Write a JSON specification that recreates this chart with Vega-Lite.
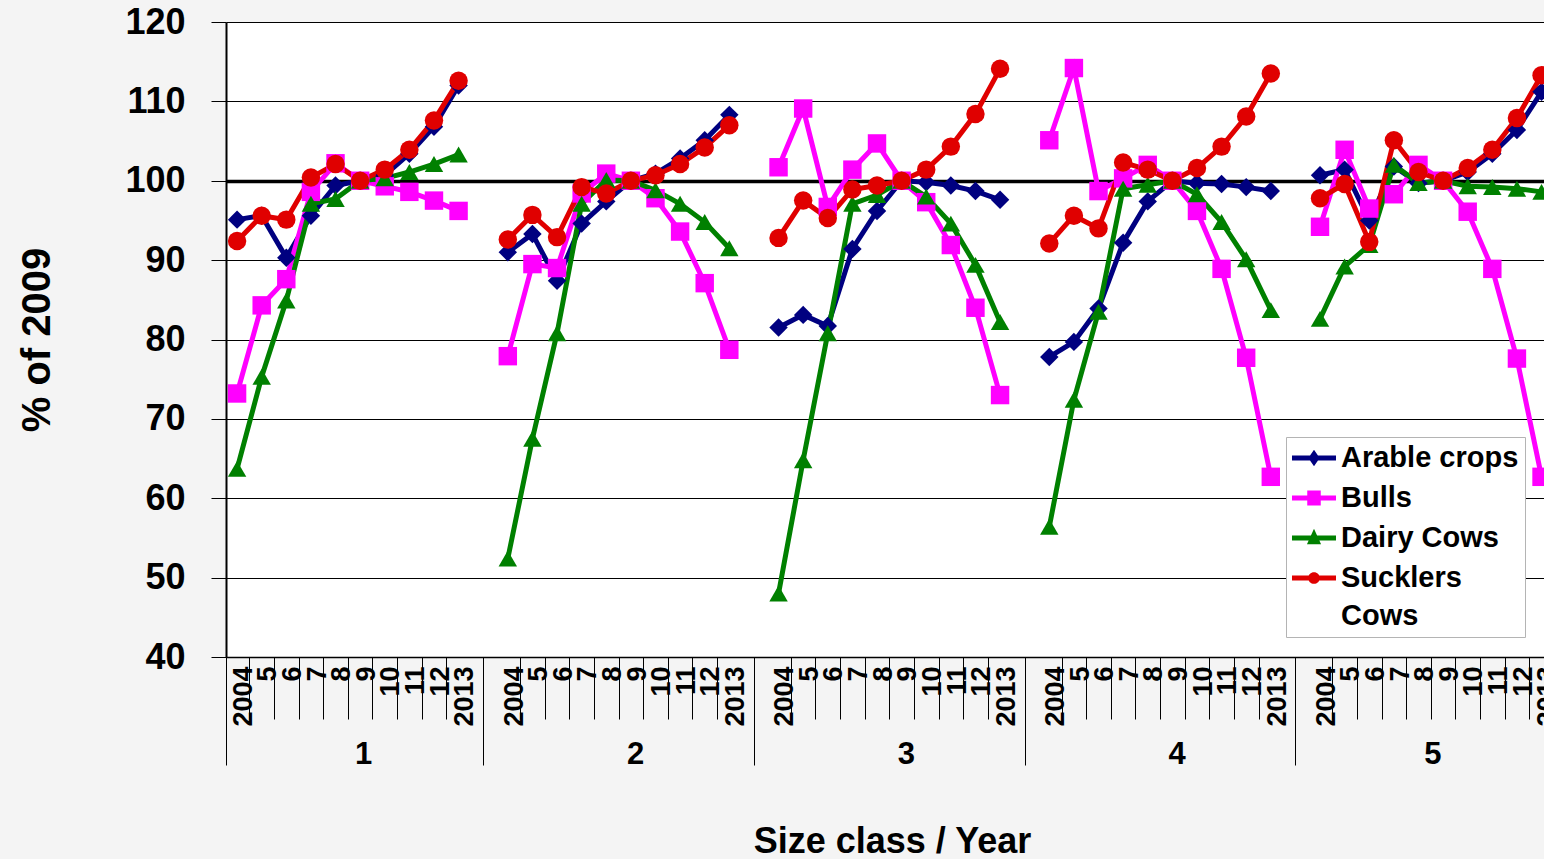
{
  "$schema": "https://vega.github.io/schema/vega-lite/v6.json",
  "width": 1318,
  "height": 635,
  "autosize": {"type": "none"},
  "padding": {"left": 226, "top": 22, "right": 0, "bottom": 202},
  "background": "#f4f4f4",
  "config": {
    "view": {"fill": "white", "stroke": null},
    "font": "Liberation Sans",
    "axis": {"labelFont": "Liberation Sans", "titleFont": "Liberation Sans", "labelColor": "black", "titleColor": "black", "labelFontWeight": "bold", "titleFontWeight": "bold"},
    "legend": {
      "orient": "none",
      "legendX": 1060,
      "legendY": 415,
      "fillColor": "white",
      "strokeColor": "#b4b4b4",
      "padding": 6,
      "cornerRadius": 0,
      "labelFont": "Liberation Sans",
      "labelFontSize": 29,
      "labelFontWeight": "bold",
      "labelColor": "black",
      "labelLimit": 300,
      "symbolSize": 900,
      "symbolStrokeWidth": 0,
      "symbolOffset": 7,
      "rowPadding": 10,
      "labelOffset": 12
    }
  },
  "data": {
    "values": [
      {"size": 1, "year": 2004, "Arable crops": 95.1, "Bulls": 73.2, "Dairy Cows": 63.7, "Sucklers Cows": 92.4},
      {"size": 1, "year": 2005, "Arable crops": 95.6, "Bulls": 84.3, "Dairy Cows": 75.3, "Sucklers Cows": 95.6},
      {"size": 1, "year": 2006, "Arable crops": 90.3, "Bulls": 87.6, "Dairy Cows": 84.9, "Sucklers Cows": 95.1},
      {"size": 1, "year": 2007, "Arable crops": 95.6, "Bulls": 98.6, "Dairy Cows": 97.1, "Sucklers Cows": 100.4},
      {"size": 1, "year": 2008, "Arable crops": 99.4, "Bulls": 102.2, "Dairy Cows": 97.7, "Sucklers Cows": 102.1},
      {"size": 1, "year": 2009, "Arable crops": 100, "Bulls": 100, "Dairy Cows": 100, "Sucklers Cows": 100},
      {"size": 1, "year": 2010, "Arable crops": 100.7, "Bulls": 99.3, "Dairy Cows": 100.3, "Sucklers Cows": 101.4},
      {"size": 1, "year": 2011, "Arable crops": 103.4, "Bulls": 98.6, "Dairy Cows": 101.1, "Sucklers Cows": 103.9},
      {"size": 1, "year": 2012, "Arable crops": 106.8, "Bulls": 97.5, "Dairy Cows": 102.1, "Sucklers Cows": 107.6},
      {"size": 1, "year": 2013, "Arable crops": 112.0, "Bulls": 96.2, "Dairy Cows": 103.3, "Sucklers Cows": 112.6},
      {"size": 2, "year": 2004, "Arable crops": 91.0, "Bulls": 77.9, "Dairy Cows": 52.4, "Sucklers Cows": 92.6},
      {"size": 2, "year": 2005, "Arable crops": 93.3, "Bulls": 89.5, "Dairy Cows": 67.5, "Sucklers Cows": 95.7},
      {"size": 2, "year": 2006, "Arable crops": 87.4, "Bulls": 89.0, "Dairy Cows": 80.8, "Sucklers Cows": 92.9},
      {"size": 2, "year": 2007, "Arable crops": 94.6, "Bulls": 98.4, "Dairy Cows": 97.1, "Sucklers Cows": 99.2},
      {"size": 2, "year": 2008, "Arable crops": 97.4, "Bulls": 100.9, "Dairy Cows": 100.1, "Sucklers Cows": 98.4},
      {"size": 2, "year": 2009, "Arable crops": 100, "Bulls": 100, "Dairy Cows": 100, "Sucklers Cows": 100},
      {"size": 2, "year": 2010, "Arable crops": 100.9, "Bulls": 97.8, "Dairy Cows": 98.8, "Sucklers Cows": 100.7},
      {"size": 2, "year": 2011, "Arable crops": 102.8, "Bulls": 93.6, "Dairy Cows": 97.1, "Sucklers Cows": 102.1},
      {"size": 2, "year": 2012, "Arable crops": 105.1, "Bulls": 87.1, "Dairy Cows": 94.8, "Sucklers Cows": 104.2},
      {"size": 2, "year": 2013, "Arable crops": 108.3, "Bulls": 78.7, "Dairy Cows": 91.5, "Sucklers Cows": 107.0},
      {"size": 3, "year": 2004, "Arable crops": 81.5, "Bulls": 101.7, "Dairy Cows": 48.0, "Sucklers Cows": 92.8},
      {"size": 3, "year": 2005, "Arable crops": 83.1, "Bulls": 109.1, "Dairy Cows": 64.8, "Sucklers Cows": 97.5},
      {"size": 3, "year": 2006, "Arable crops": 81.7, "Bulls": 96.7, "Dairy Cows": 80.8, "Sucklers Cows": 95.3},
      {"size": 3, "year": 2007, "Arable crops": 91.4, "Bulls": 101.4, "Dairy Cows": 97.1, "Sucklers Cows": 98.9},
      {"size": 3, "year": 2008, "Arable crops": 96.2, "Bulls": 104.7, "Dairy Cows": 98.2, "Sucklers Cows": 99.4},
      {"size": 3, "year": 2009, "Arable crops": 100, "Bulls": 100, "Dairy Cows": 100, "Sucklers Cows": 100},
      {"size": 3, "year": 2010, "Arable crops": 99.8, "Bulls": 97.3, "Dairy Cows": 98.0, "Sucklers Cows": 101.4},
      {"size": 3, "year": 2011, "Arable crops": 99.4, "Bulls": 91.9, "Dairy Cows": 94.6, "Sucklers Cows": 104.3},
      {"size": 3, "year": 2012, "Arable crops": 98.7, "Bulls": 84.0, "Dairy Cows": 89.4, "Sucklers Cows": 108.4},
      {"size": 3, "year": 2013, "Arable crops": 97.6, "Bulls": 73.0, "Dairy Cows": 82.2, "Sucklers Cows": 114.1},
      {"size": 4, "year": 2004, "Arable crops": 77.8, "Bulls": 105.1, "Dairy Cows": 56.4, "Sucklers Cows": 92.1},
      {"size": 4, "year": 2005, "Arable crops": 79.7, "Bulls": 114.2, "Dairy Cows": 72.4, "Sucklers Cows": 95.6},
      {"size": 4, "year": 2006, "Arable crops": 83.9, "Bulls": 98.7, "Dairy Cows": 83.5, "Sucklers Cows": 94.0},
      {"size": 4, "year": 2007, "Arable crops": 92.2, "Bulls": 100.3, "Dairy Cows": 99.0, "Sucklers Cows": 102.3},
      {"size": 4, "year": 2008, "Arable crops": 97.4, "Bulls": 102.0, "Dairy Cows": 99.5, "Sucklers Cows": 101.4},
      {"size": 4, "year": 2009, "Arable crops": 100, "Bulls": 100, "Dairy Cows": 100, "Sucklers Cows": 100},
      {"size": 4, "year": 2010, "Arable crops": 99.7, "Bulls": 96.2, "Dairy Cows": 98.3, "Sucklers Cows": 101.6},
      {"size": 4, "year": 2011, "Arable crops": 99.6, "Bulls": 88.9, "Dairy Cows": 94.8, "Sucklers Cows": 104.3},
      {"size": 4, "year": 2012, "Arable crops": 99.2, "Bulls": 77.7, "Dairy Cows": 90.1, "Sucklers Cows": 108.1},
      {"size": 4, "year": 2013, "Arable crops": 98.7, "Bulls": 62.7, "Dairy Cows": 83.7, "Sucklers Cows": 113.5},
      {"size": 5, "year": 2004, "Arable crops": 100.7, "Bulls": 94.2, "Dairy Cows": 82.6, "Sucklers Cows": 97.8},
      {"size": 5, "year": 2005, "Arable crops": 101.4, "Bulls": 103.9, "Dairy Cows": 89.2, "Sucklers Cows": 99.6},
      {"size": 5, "year": 2006, "Arable crops": 95.0, "Bulls": 96.5, "Dairy Cows": 91.9, "Sucklers Cows": 92.3},
      {"size": 5, "year": 2007, "Arable crops": 101.8, "Bulls": 98.3, "Dairy Cows": 102.0, "Sucklers Cows": 105.1},
      {"size": 5, "year": 2008, "Arable crops": 99.7, "Bulls": 102.0, "Dairy Cows": 99.7, "Sucklers Cows": 101.1},
      {"size": 5, "year": 2009, "Arable crops": 100, "Bulls": 100, "Dairy Cows": 100, "Sucklers Cows": 100},
      {"size": 5, "year": 2010, "Arable crops": 101.1, "Bulls": 96.1, "Dairy Cows": 99.3, "Sucklers Cows": 101.6},
      {"size": 5, "year": 2011, "Arable crops": 103.4, "Bulls": 88.9, "Dairy Cows": 99.2, "Sucklers Cows": 103.9},
      {"size": 5, "year": 2012, "Arable crops": 106.4, "Bulls": 77.6, "Dairy Cows": 99.0, "Sucklers Cows": 107.9},
      {"size": 5, "year": 2013, "Arable crops": 111.2, "Bulls": 62.7, "Dairy Cows": 98.6, "Sucklers Cows": 113.3}
    ]
  },
  "transform": [
    {"fold": ["Arable crops", "Bulls", "Dairy Cows", "Sucklers Cows"], "as": ["series", "pct"]},
    {"calculate": "(datum.size - 1) * 11 + (datum.year - 2004)", "as": "pos"}
  ],
  "layer": [
    {
      "mark": {"type": "line", "strokeWidth": 5},
      "encoding": {
        "x": {
          "field": "pos", "type": "quantitative",
          "scale": {"domain": [-0.45, 53.1], "nice": false, "zero": false},
          "axis": {
            "orient": "bottom",
            "values": [0,1,2,3,4,5,6,7,8,9,11,12,13,14,15,16,17,18,19,20,22,23,24,25,26,27,28,29,30,31,33,34,35,36,37,38,39,40,41,42,44,45,46,47,48,49,50,51,52,53],
            "labelExpr": "datum.value % 11 === 0 ? '2004' : (datum.value % 11 === 9 ? '2013' : toString(datum.value % 11 + 4))",
            "labelAngle": -90,
            "labelAlign": "right",
            "labelBaseline": "middle",
            "labelFontSize": 27,
            "labelPadding": -53,
            "labelOffset": 18.5,
            "labelOverlap": false,
            "labelFlush": false,
            "labelBound": false,
            "tickOffset": -12.3,
            "tickSize": 62,
            "tickColor": "black",
            "tickWidth": 1,
            "tickOpacity": {"condition": {"test": "datum.value % 11 === 0", "value": 0}, "value": 1},
            "domain": true,
            "domainColor": "black",
            "domainWidth": 1.5,
            "grid": false,
            "title": null
          }
        },
        "y": {
          "field": "pct", "type": "quantitative",
          "scale": {"domain": [40, 120], "nice": false, "zero": false},
          "axis": {
            "values": [40, 50, 60, 70, 80, 90, 100, 110, 120],
            "labelFontSize": 36,
            "labelPadding": 26,
            "tickSize": 15,
            "tickColor": "black",
            "tickWidth": 1,
            "domainColor": "black",
            "domainWidth": 2,
            "grid": true,
            "gridColor": "black",
            "gridOpacity": 1,
            "gridWidth": {"condition": {"test": "datum.value === 100", "value": 3.5}, "value": 1},
            "title": "% of 2009",
            "titleFontSize": 40,
            "titlePadding": 67
          }
        },
        "color": {
          "field": "series", "type": "nominal",
          "scale": {"domain": ["Arable crops", "Bulls", "Dairy Cows", "Sucklers Cows"], "range": ["#000080", "#ff00ff", "#008000", "#e00000"]},
          "legend": {
            "title": null,
            "labelExpr": "datum.label === 'Sucklers Cows' ? ['Sucklers', 'Cows'] : datum.label",
            "encode": {
              "symbols": {"update": {
                "shape": {"signal": "datum.value === 'Arable crops' ? 'M-1.467,-0.167H1.467V0.167H-1.467Z M0,-0.55L0.38,0L0,0.55L-0.38,0Z' : (datum.value === 'Bulls' ? 'M-1.467,-0.167H1.467V0.167H-1.467Z M-0.45,-0.5H0.45V0.5H-0.45Z' : (datum.value === 'Dairy Cows' ? 'M-1.467,-0.167H1.467V0.167H-1.467Z M0,-0.62L0.47,0.42H-0.47Z' : 'M-1.467,-0.167H1.467V0.167H-1.467Z M-0.39,0A0.39,0.39 0 1,1 0.39,0A0.39,0.39 0 1,1 -0.39,0Z'))"},
                "fill": {"scale": "color", "field": "value"},
                "fillOpacity": {"value": 1},
                "opacity": {"value": 1},
                "size": {"value": 900},
                "strokeWidth": {"value": 0}
              }},
              "labels": {"update": {"lineHeight": {"value": 37.5}}}
            }
          }
        },
        "detail": {"field": "size", "type": "nominal"}
      }
    },
    {
      "mark": {"type": "point", "filled": true, "opacity": 1, "size": 340},
      "encoding": {
        "x": {
          "field": "pos", "type": "quantitative",
          "scale": {"domain": [-0.45, 53.1], "nice": false, "zero": false},
          "axis": {
            "orient": "bottom",
            "values": [-0.45, 10, 21, 32, 43],
            "labelExpr": "datum.value < 0 ? '1' : toString(round((datum.value + 1) / 11) + 1)",
            "labelAngle": 0,
            "labelAlign": "center",
            "labelBaseline": "top",
            "labelFontSize": 31,
            "labelOffset": {"condition": {"test": "datum.value < 0 || datum.value > 40", "value": 137}, "value": 152},
            "labelPadding": -26,
            "labelOverlap": false,
            "labelFlush": false,
            "labelBound": false,
            "tickSize": 108,
            "tickColor": "black",
            "tickWidth": 1,
            "domain": false,
            "grid": false,
            "title": "Size class / Year",
            "titleFontSize": 36,
            "titlePadding": 55,
            "titleX": 666
          }
        },
        "y": {"field": "pct", "type": "quantitative", "scale": {"domain": [40, 120], "nice": false, "zero": false}},
        "color": {
          "field": "series", "type": "nominal",
          "scale": {"domain": ["Arable crops", "Bulls", "Dairy Cows", "Sucklers Cows"], "range": ["#000080", "#ff00ff", "#008000", "#e00000"]},
          "legend": {
            "title": null,
            "labelExpr": "datum.label === 'Sucklers Cows' ? ['Sucklers', 'Cows'] : datum.label",
            "encode": {
              "symbols": {"update": {
                "shape": {"signal": "datum.value === 'Arable crops' ? 'M-1.467,-0.167H1.467V0.167H-1.467Z M0,-0.55L0.38,0L0,0.55L-0.38,0Z' : (datum.value === 'Bulls' ? 'M-1.467,-0.167H1.467V0.167H-1.467Z M-0.45,-0.5H0.45V0.5H-0.45Z' : (datum.value === 'Dairy Cows' ? 'M-1.467,-0.167H1.467V0.167H-1.467Z M0,-0.62L0.47,0.42H-0.47Z' : 'M-1.467,-0.167H1.467V0.167H-1.467Z M-0.39,0A0.39,0.39 0 1,1 0.39,0A0.39,0.39 0 1,1 -0.39,0Z'))"},
                "fill": {"scale": "color", "field": "value"},
                "fillOpacity": {"value": 1},
                "opacity": {"value": 1},
                "size": {"value": 900},
                "strokeWidth": {"value": 0}
              }},
              "labels": {"update": {"lineHeight": {"value": 37.5}}}
            }
          }
        },
        "shape": {
          "field": "series", "type": "nominal",
          "scale": {"domain": ["Sucklers Cows", "Dairy Cows", "Bulls", "Arable crops"], "range": ["circle", "triangle-up", "square", "diamond"]},
          "legend": null
        }
      }
    }
  ],
  "resolve": {"axis": {"x": "independent"}}
}
